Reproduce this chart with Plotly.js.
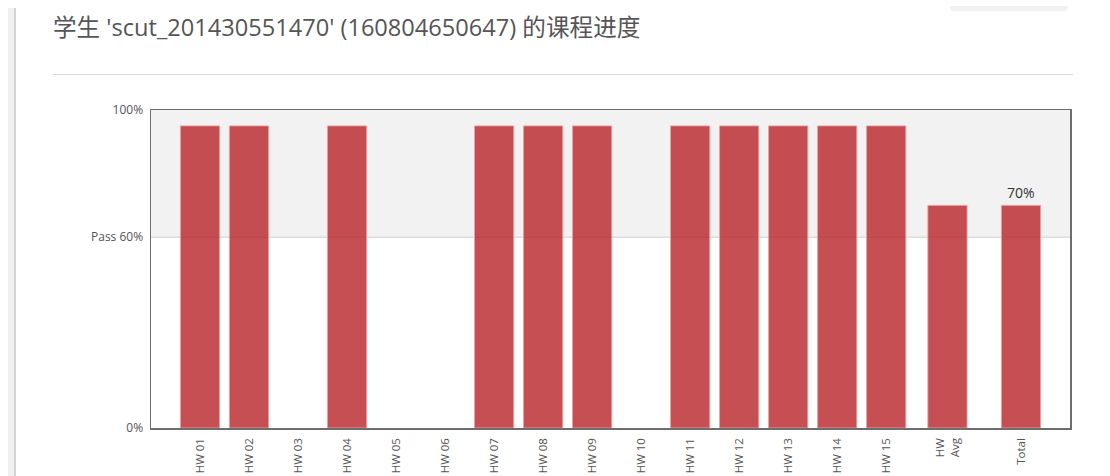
<!DOCTYPE html>
<html>
<head>
<meta charset="utf-8">
<script src="https://cdn.plot.ly/plotly-3.0.1.min.js"></script>
<style>
  html, body { margin: 0; padding: 0; background: #fff; }
  #wrap { position: relative; width: 1110px; height: 476px; overflow: hidden; }
  #strip { position: absolute; left: 8px; top: 8px; width: 6px; bottom: 0; background: #f0f0f0; border-right: 2px solid #d4d4d4; }
  #rule { position: absolute; left: 53px; top: 74px; width: 1020px; height: 1px; background: #d9d9d9; }
  #tab { position: absolute; left: 950px; top: 6px; width: 118px; height: 5px; background: #f1f1f1; border-radius: 0 0 4px 4px; }
  #chart { position: absolute; left: 0; top: 0; width: 1110px; height: 476px; }
</style>
</head>
<body>
<div id="wrap">
  <div id="strip"></div>
  <div id="rule"></div>
  <div id="tab"></div>
  <div id="chart"></div>
</div>
<script>
// ---- data ----
const titleText = "学生 'scut_201430551470' (160804650647) 的课程进度";
const hwLabels = ['HW 01','HW 02','HW 03','HW 04','HW 05','HW 06','HW 07','HW 08','HW 09','HW 10','HW 11','HW 12','HW 13','HW 14','HW 15'];
const hwScores = [0.95,0.95,0,0.95,0,0,0.95,0.95,0.95,0,0.95,0.95,0.95,0.95,0.95];
const avgLabel = 'HW<br>Avg';
const avgScore = 0.70;
const totalLabel = 'Total';
const totalScore = 0.70;
const passMark = 0.60;
const yTickVals = [0, 0.6, 1];
const yTickText = ['0%', 'Pass 60%', '100%'];

// ---- build ----
const xs = hwScores.map((_, i) => i + 1);
xs.push(hwScores.length + 1.25, hwScores.length + 2.75);
const labels = hwLabels.concat([avgLabel, totalLabel]);
const ys = hwScores.concat([avgScore, totalScore]);

const trace = {
  type: 'bar',
  x: xs,
  y: ys,
  width: 0.8,
  marker: {
    color: 'rgba(183,35,40,0.8)',
    line: { color: 'rgba(235,160,160,0.9)', width: ys.map(v => v > 0 ? 1 : 0) }
  },
  hoverinfo: 'none'
};

const layout = {
  width: 1110, height: 476,
  margin: { l: 151, r: 40, t: 110, b: 48, pad: 0 },
  paper_bgcolor: 'rgba(0,0,0,0)',
  plot_bgcolor: '#ffffff',
  showlegend: false,
  title: {
    text: titleText,
    x: 53 / 1110, xanchor: 'left', xref: 'container',
    y: 1 - 28 / 476, yanchor: 'middle', yref: 'container',
    font: { family: '"Open Sans", "Noto Sans CJK SC", sans-serif', size: 23.6, color: '#555555' }
  },
  xaxis: {
    range: [0, 18.75],
    tickvals: xs, ticktext: labels,
    tickangle: -90,
    ticks: 'outside', ticklen: 4, tickcolor: 'rgba(0,0,0,0)',
    tickfont: { family: '"Open Sans", sans-serif', size: 11.5, color: '#545454' },
    showgrid: false, zeroline: false,
    showline: true, mirror: true, linecolor: '#6e6e6e', linewidth: 1.5,
    fixedrange: true
  },
  yaxis: {
    range: [0, 1],
    tickvals: yTickVals, ticktext: yTickText,
    ticks: 'outside', ticklen: 4, tickcolor: 'rgba(0,0,0,0)',
    tickfont: { family: '"Open Sans", sans-serif', size: 12, color: '#545454' },
    showgrid: false, zeroline: false,
    showline: true, mirror: true, linecolor: '#6e6e6e', linewidth: 1.5,
    fixedrange: true
  },
  shapes: [
    { type: 'rect', xref: 'paper', yref: 'y', x0: 0, x1: 1, y0: passMark, y1: 1,
      fillcolor: '#f2f2f2', line: { width: 0 }, layer: 'below' },
    { type: 'line', xref: 'paper', yref: 'y', x0: 0, x1: 1, y0: passMark, y1: passMark,
      line: { color: '#dcdcdc', width: 1.5 }, layer: 'below' }
  ],
  annotations: [
    { x: xs[xs.length - 1], y: totalScore, xref: 'x', yref: 'y',
      text: Math.round(totalScore * 100) + '%', showarrow: false,
      yanchor: 'bottom', yshift: 1,
      font: { family: '"Open Sans", sans-serif', size: 14, color: '#333' } }
  ]
};

Plotly.newPlot('chart', [trace], layout, { displayModeBar: false, staticPlot: true });
</script>
</body>
</html>
